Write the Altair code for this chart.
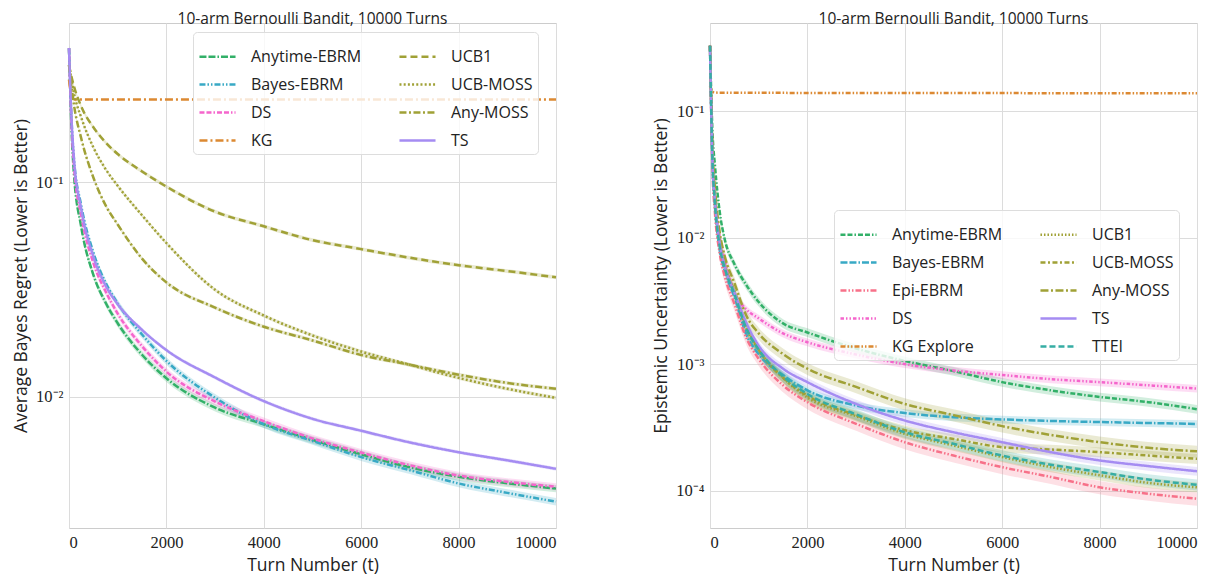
import altair as alt
import pandas as pd

# ---------------- Left panel: Average Bayes Regret ----------------
T_LEFT = [0, 50, 100, 250, 500, 750, 1000, 1500, 2000, 3000, 4000, 5000, 6000, 7000, 8000, 9000, 10000]
left_anytime = [0.42, 0.18, 0.11, 0.062, 0.037, 0.0275, 0.022, 0.0157, 0.0122, 0.0089, 0.00745, 0.0063, 0.0054, 0.0047, 0.00424, 0.00396, 0.00374]
left_bayes = [0.42, 0.2, 0.13, 0.078, 0.047, 0.034, 0.0272, 0.0195, 0.0147, 0.0099, 0.00745, 0.00623, 0.00524, 0.00455, 0.00395, 0.00357, 0.00325]
left_ds = [0.42, 0.19, 0.12, 0.07, 0.042, 0.031, 0.0244, 0.0172, 0.0131, 0.0095, 0.0077, 0.0064, 0.0055, 0.0048, 0.0043, 0.00402, 0.00381]
left_kg = [0.30, 0.25, 0.243, 0.242, 0.242, 0.242, 0.242, 0.242, 0.242, 0.242, 0.242, 0.242, 0.242, 0.242, 0.242, 0.242, 0.242]
left_ucb1 = [0.35, 0.31, 0.28, 0.225, 0.18, 0.153, 0.135, 0.112, 0.0952, 0.0728, 0.0622, 0.0536, 0.0487, 0.0444, 0.041, 0.0385, 0.036]
left_ucbmoss = [0.35, 0.3, 0.26, 0.2, 0.145, 0.115, 0.096, 0.07, 0.052, 0.0315, 0.0239, 0.0193, 0.01625, 0.0141, 0.01225, 0.0109, 0.00988]
left_anymoss = [0.35, 0.28, 0.23, 0.16, 0.105, 0.078, 0.0634, 0.044, 0.0341, 0.026, 0.0212, 0.0183, 0.01566, 0.0141, 0.01268, 0.0116, 0.0109]
left_ts = [0.42, 0.2, 0.13, 0.075, 0.045, 0.033, 0.027, 0.0205, 0.0165, 0.0123, 0.00955, 0.0079, 0.00695, 0.00613, 0.00552, 0.00506, 0.00462]

LEFT_NAMES = ["Anytime-EBRM", "Bayes-EBRM", "DS", "KG", "UCB1", "UCB-MOSS", "Any-MOSS", "TS"]
LEFT_SERIES = [left_anytime, left_bayes, left_ds, left_kg, left_ucb1, left_ucbmoss, left_anymoss, left_ts]
LEFT_BANDS = [0.04, 0.04, 0.04, 0.0, 0.02, 0.02, 0.02, 0.02]
LEFT_COLORS = ["#32b068", "#38a9c5", "#f565cc", "#dc8932", "#a0a136", "#a0a136", "#a0a136", "#a58cf2"]
LEFT_DASHES = [[7, 2, 7, 2, 1.5, 2], [6, 2, 1.5, 2, 1.5, 2], [5, 2, 5, 2, 1.5, 2], [8, 3, 2, 3],
               [7, 4], [2, 2.2], [7, 2.5, 2, 2.5], [1, 0]]

# ---------------- Right panel: Epistemic Uncertainty ----------------
T_RIGHT = [0, 50, 100, 200, 300, 500, 750, 1000, 1500, 2000, 3000, 4000, 5000, 6000, 7000, 8000, 9000, 10000]
right_anytime = [0.33, 0.07, 0.038, 0.016, 0.0098, 0.0062, 0.0042, 0.0031, 0.0021, 0.00178, 0.00133, 0.00106, 0.00088, 0.00072, 0.00062, 0.00055, 0.0005, 0.00044]
right_bayes = [0.33, 0.04, 0.018, 0.008, 0.0055, 0.0034, 0.0017, 0.0012, 0.00082, 0.00062, 0.00047, 0.00041, 0.00038, 0.000365, 0.000355, 0.000348, 0.000342, 0.000336]
right_epi = [0.33, 0.035, 0.016, 0.0075, 0.005, 0.003, 0.0016, 0.0011, 0.00068, 0.0005, 0.000337, 0.000241, 0.000189, 0.000153, 0.000128, 0.000106, 0.0000943, 0.0000861]
right_ds = [0.33, 0.05, 0.022, 0.01, 0.0068, 0.0037, 0.0027, 0.0023, 0.00175, 0.00149, 0.00119, 0.001, 0.00089, 0.00082, 0.00076, 0.00072, 0.00068, 0.00064]
right_kg = [0.16, 0.143, 0.141, 0.1405, 0.1405, 0.1403, 0.1402, 0.14, 0.14, 0.1398, 0.1397, 0.1396, 0.1395, 0.1394, 0.1393, 0.1392, 0.1391, 0.139]
right_ucb1 = [0.33, 0.045, 0.02, 0.009, 0.006, 0.0037, 0.0019, 0.0013, 0.00078, 0.000545, 0.000387, 0.000281, 0.000227, 0.000184, 0.000153, 0.000132, 0.000115, 0.000106]
right_ucbmoss = [0.33, 0.045, 0.021, 0.0095, 0.0062, 0.0038, 0.002, 0.0013, 0.00078, 0.000563, 0.000394, 0.0003, 0.000256, 0.00022, 0.000211, 0.000201, 0.000189, 0.000178]
right_anymoss = [0.33, 0.05, 0.025, 0.011, 0.0072, 0.0044, 0.0024, 0.00175, 0.0012, 0.00092, 0.00066, 0.000484, 0.000395, 0.000323, 0.000275, 0.000241, 0.000218, 0.000204]
right_ts = [0.33, 0.04, 0.02, 0.009, 0.006, 0.0037, 0.0021, 0.0014, 0.00092, 0.00072, 0.000484, 0.000358, 0.000289, 0.000241, 0.000201, 0.000173, 0.000156, 0.000142]
right_ttei = [0.33, 0.042, 0.019, 0.0085, 0.0058, 0.0036, 0.0019, 0.0013, 0.0008, 0.00058, 0.0004, 0.000289, 0.000234, 0.000189, 0.00016, 0.00014, 0.000122, 0.000111]

RIGHT_NAMES = ["Anytime-EBRM", "Bayes-EBRM", "Epi-EBRM", "DS", "KG Explore",
               "UCB1", "UCB-MOSS", "Any-MOSS", "TS", "TTEI"]
RIGHT_SERIES = [right_anytime, right_bayes, right_epi, right_ds, right_kg,
                right_ucb1, right_ucbmoss, right_anymoss, right_ts, right_ttei]
RIGHT_BANDS = [0.08, 0.07, 0.12, 0.07, 0.0, 0.09, 0.09, 0.11, 0.08, 0.1]
RIGHT_COLORS = ["#32b068", "#38a9c5", "#f77189", "#f565cc", "#dc8932",
                "#a0a136", "#a0a136", "#a0a136", "#a58cf2", "#36ada4"]
RIGHT_DASHES = [[5, 2, 5, 2, 1.5, 2], [7, 2, 7, 2, 1.5, 2], [6, 2, 1.5, 2, 1.5, 2],
                [3.5, 2, 1.5, 2, 1.5, 2], [5, 2, 1.5, 2, 1.5, 2],
                [1.5, 2], [5, 2.5, 2, 2.5], [8, 2.5, 2, 2.5], [1, 0], [6, 3]]

TITLE = "10-arm Bernoulli Bandit, 10000 Turns"
SANS = "Open Sans"
SERIF = "Liberation Serif"

LABEL_EXPR = ("'10' + (round(log(datum.value)/LN10) == -1 ? '⁻¹' : "
              "round(log(datum.value)/LN10) == -2 ? '⁻²' : "
              "round(log(datum.value)/LN10) == -3 ? '⁻³' : '⁻⁴')")


def panel(T, series, names, bands, colors, dashes, ytitle, ydomain, yvals, lx, ly):
    rows = []
    for name, vals, bw in zip(names, series, bands):
        for t, v in zip(T, vals):
            rows.append({"t": t, "v": v, "Method": name, "lo": v * (1 - bw), "hi": v * (1 + bw)})
    df = pd.DataFrame(rows)
    base = alt.Chart(df)
    xenc = alt.X("t:Q", scale=alt.Scale(domain=[0, 10000], nice=False),
                 axis=alt.Axis(values=[0, 2000, 4000, 6000, 8000, 10000], format="d",
                               title="Turn Number (t)"))
    yscale = alt.Scale(type="log", domain=ydomain, nice=False)
    yenc = alt.Y("v:Q", scale=yscale,
                 axis=alt.Axis(values=yvals, labelExpr=LABEL_EXPR, title=ytitle))
    leg = alt.Legend(orient="none", legendX=lx, legendY=ly, columns=2, title=None,
                     symbolType="stroke", symbolStrokeWidth=2.5, symbolSize=1300,
                     labelFont=SANS, labelFontSize=16, labelColor="#222222",
                     fillColor="rgba(255,255,255,0.8)", strokeColor="#dddddd",
                     cornerRadius=4, padding=5, columnPadding=32, rowPadding=-4,
                     labelOffset=14, labelLimit=300)
    color = alt.Color("Method:N", scale=alt.Scale(domain=names, range=colors), legend=leg)
    dash = alt.StrokeDash("Method:N", scale=alt.Scale(domain=names, range=dashes), legend=leg)
    # the band fill scale lists the same names in reverse order, so that its
    # (hidden) legend is not merged with the visible colour/dash legend
    area = base.mark_area(opacity=0.22, interpolate="monotone").encode(
        x=xenc,
        y=alt.Y("lo:Q", scale=yscale),
        y2="hi:Q",
        fill=alt.Fill("Method:N", scale=alt.Scale(domain=names[::-1], range=colors[::-1]), legend=None),
    )
    line = base.mark_line(strokeWidth=2.5, interpolate="monotone").encode(
        x=xenc, y=yenc, color=color, strokeDash=dash
    )
    return alt.layer(area, line).properties(
        width=487, height=505,
        title=alt.TitleParams(TITLE, font=SANS, fontSize=15.5, fontWeight="normal", color="#222222", offset=-4),
    )


left = panel(T_LEFT, LEFT_SERIES, LEFT_NAMES, LEFT_BANDS, LEFT_COLORS, LEFT_DASHES,
             "Average Bayes Regret (Lower is Better)", [0.00245, 0.55], [0.1, 0.01], 124, 9)
right = panel(T_RIGHT, RIGHT_SERIES, RIGHT_NAMES, RIGHT_BANDS, RIGHT_COLORS, RIGHT_DASHES,
              "Epistemic Uncertainty (Lower is Better)", [5.05e-5, 0.5], [0.1, 0.01, 0.001, 0.0001], 124, 187)

chart = alt.hconcat(left, right, spacing=90).resolve_scale(
    color="independent", strokeDash="independent", fill="independent"
).resolve_legend(color="independent", strokeDash="independent").properties(
    padding={"left": 4, "top": 3, "right": 0, "bottom": 0}
).configure_view(stroke="#cccccc", strokeWidth=1).configure_axis(
    grid=True, gridColor="#dcdcdc", gridWidth=1, domain=False, ticks=False,
    labelFont=SERIF, labelFontSize=16.5, labelColor="#222222", labelPadding=6,
    titleFont=SANS, titleFontSize=17.5, titleFontWeight="normal", titleColor="#222222",
).configure_axisY(titlePadding=5).configure_axisX(titlePadding=6)

chart.save("out.html", embed_options={"renderer": "svg", "actions": False})
